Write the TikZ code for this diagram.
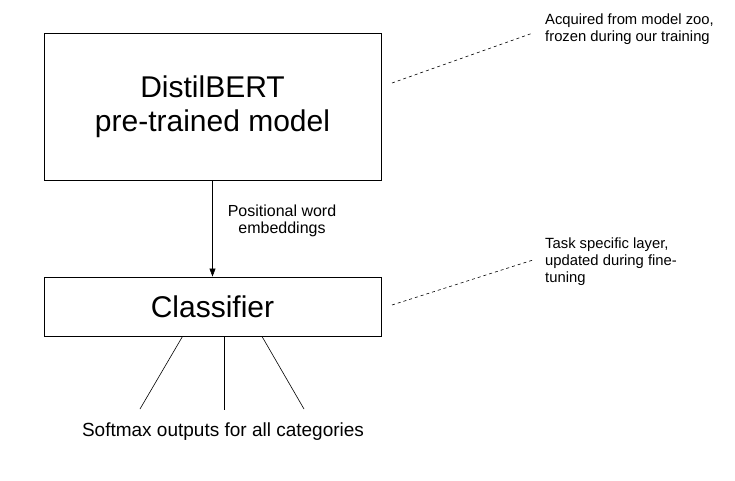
\documentclass[tikz,border=0pt]{standalone}
\usepackage{fontspec}
\setmainfont{Liberation Sans}
\usetikzlibrary{arrows.meta}
\begin{document}
\begin{tikzpicture}[x=1pt, y=-1pt,
  box/.style={rectangle, draw, line width=0.9pt, minimum width=337pt, font=\fontsize{30}{34}\selectfont},
  note/.style={anchor=north west, inner sep=0pt, align=left, font=\fontsize{14.8}{16.8}\selectfont}]

\useasboundingbox (0,0) rectangle (735,481);

% Cajas
\node[box, minimum height=147pt, align=center] (bert) at (212.5,106.5) {DistilBERT\\pre-trained model};
\node[box, minimum height=59pt] (clf) at (212.5,306.5) {Classifier};

% Textos
\node[align=center, font=\fontsize{16}{17.5}\selectfont] (emb) at (282,221) {Positional word\\embeddings};
\node[font=\fontsize{19}{21}\selectfont] (soft) at (223,432) {Softmax outputs for all categories};
\node[note] (zoo) at (545,14) {Acquired from model zoo,\\frozen during our training};
\node[note] (task) at (545,238) {Task specific layer,\\updated during fine-\\tuning};

% Conexion entre cajas
\draw[line width=0.6pt, arrows={-{Triangle[length=8pt,width=6pt]}}] (bert) -- (clf);

% Salidas
\coordinate (s1) at (140,409);
\coordinate (s2) at (224,410);
\coordinate (s3) at (304,409);
\draw[line width=0.6pt] ([xshift=-30pt]clf.south) -- (s1);
\draw[line width=0.6pt] ([xshift=11.5pt]clf.south) -- (s2);
\draw[line width=0.6pt] ([xshift=49.5pt]clf.south) -- (s3);

% Lineas discontinuas
\coordinate (z1) at (392,83);
\coordinate (z2) at (533,33);
\coordinate (t1) at (392,305);
\coordinate (t2) at (533,260);
\draw[line width=0.6pt, dash pattern=on 3pt off 3pt] (z1) -- (z2);
\draw[line width=0.6pt, dash pattern=on 3pt off 3pt] (t1) -- (t2);

\end{tikzpicture}
\end{document}
